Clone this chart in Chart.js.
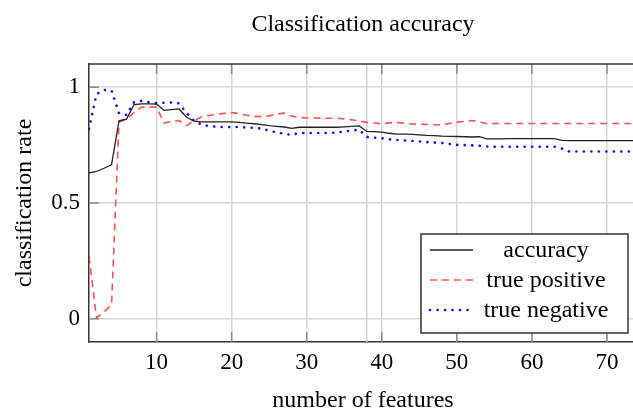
<!DOCTYPE html>
<html>
<head>
<meta charset="utf-8">
<script src="https://cdn.jsdelivr.net/npm/chart.js@4"></script>
<style>
  html, body { margin: 0; padding: 0; background: #fff; overflow: hidden; }
  #wrap { width: 633px; height: 408px; overflow: hidden; }
</style>
</head>
<body>
<div id="wrap"><canvas id="myChart" width="637" height="420"></canvas></div>
<script>
const features = [1, 2, 3, 4, 5, 6, 7, 8, 9, 10, 11, 12, 13, 14, 15, 16, 17, 18, 19, 20,
  21, 22, 23, 24, 25, 26, 27, 28, 29, 30, 31, 32, 33, 34, 35, 36, 37, 38, 39, 40,
  41, 42, 43, 44, 45, 46, 47, 48, 49, 50, 51, 52, 53, 54, 55, 56, 57, 58, 59, 60,
  61, 62, 63, 64, 65, 66, 67, 68, 69, 70, 71, 72, 73, 74]

const accuracy = [0.630, 0.636, 0.650, 0.665, 0.855, 0.862, 0.925, 0.928, 0.928, 0.927,
  0.900, 0.903, 0.906, 0.870, 0.853, 0.850, 0.850, 0.850, 0.850, 0.850,
  0.848, 0.845, 0.842, 0.838, 0.834, 0.831, 0.828, 0.822, 0.827, 0.827,
  0.827, 0.827, 0.827, 0.827, 0.829, 0.831, 0.833, 0.809, 0.808, 0.806,
  0.801, 0.797, 0.797, 0.796, 0.794, 0.792, 0.791, 0.789, 0.788, 0.787,
  0.786, 0.785, 0.786, 0.777, 0.777, 0.777, 0.778, 0.778, 0.778, 0.778,
  0.778, 0.778, 0.778, 0.770, 0.769, 0.769, 0.769, 0.769, 0.769, 0.769,
  0.769, 0.769, 0.769, 0.769]

const truePositive = [0.270, 0.005, 0.030, 0.060, 0.850, 0.862, 0.890, 0.914, 0.914, 0.914,
  0.845, 0.852, 0.856, 0.834, 0.856, 0.872, 0.878, 0.883, 0.887, 0.890,
  0.886, 0.879, 0.874, 0.873, 0.876, 0.884, 0.888, 0.875, 0.869, 0.867,
  0.867, 0.866, 0.866, 0.866, 0.863, 0.859, 0.854, 0.848, 0.845, 0.842,
  0.846, 0.848, 0.844, 0.841, 0.840, 0.839, 0.838, 0.837, 0.843, 0.849,
  0.852, 0.856, 0.851, 0.842, 0.843, 0.843, 0.843, 0.843, 0.843, 0.843,
  0.843, 0.843, 0.843, 0.843, 0.843, 0.843, 0.843, 0.843, 0.843, 0.843,
  0.843, 0.843, 0.843, 0.843]

const trueNegative = [0.820, 0.970, 0.988, 0.985, 0.888, 0.880, 0.935, 0.941, 0.935, 0.931,
  0.933, 0.934, 0.930, 0.888, 0.855, 0.838, 0.832, 0.829, 0.828, 0.828,
  0.828, 0.826, 0.824, 0.821, 0.812, 0.805, 0.798, 0.794, 0.802, 0.802,
  0.802, 0.802, 0.802, 0.804, 0.809, 0.813, 0.816, 0.785, 0.782, 0.780,
  0.775, 0.772, 0.770, 0.768, 0.766, 0.763, 0.761, 0.759, 0.755, 0.751,
  0.750, 0.749, 0.747, 0.744, 0.743, 0.743, 0.743, 0.743, 0.743, 0.743,
  0.743, 0.743, 0.743, 0.735, 0.722, 0.722, 0.722, 0.722, 0.722, 0.722,
  0.722, 0.722, 0.722, 0.722]

const xTicks = [10, 20, 30, 40, 50, 60, 70]
const yTicks = [0, 0.5, 1]
const markerFeature = 38
const seriesNames = ['accuracy', 'true positive', 'true negative']

const serif = "'Liberation Serif', 'DejaVu Serif', serif"
Chart.defaults.font.family = serif
Chart.defaults.color = '#000'

const toPoints = ys => features.map((x, i) => ({ x: x, y: ys[i] }))

// pgfplots-like frame, inner tick marks, marker line and legend box
const framePlugin = {
  id: 'frame',
  beforeDatasetsDraw(chart) {
    const { ctx, chartArea: a, scales } = chart
    ctx.save()
    // extra vertical line at the chosen number of features
    const mx = scales.x.getPixelForValue(markerFeature)
    ctx.strokeStyle = '#d2d2d2'
    ctx.lineWidth = 1.5
    ctx.beginPath()
    ctx.moveTo(mx, a.top)
    ctx.lineTo(mx, a.bottom)
    ctx.stroke()
    // inner tick marks
    ctx.strokeStyle = '#8a8a8a'
    ctx.lineWidth = 1.5
    ctx.beginPath()
    xTicks.forEach(v => {
      const px = scales.x.getPixelForValue(v)
      ctx.moveTo(px, a.bottom); ctx.lineTo(px, a.bottom - 10)
      ctx.moveTo(px, a.top); ctx.lineTo(px, a.top + 10)
    })
    yTicks.forEach(v => {
      const py = scales.y.getPixelForValue(v)
      ctx.moveTo(a.left, py); ctx.lineTo(a.left + 10, py)
    })
    ctx.stroke()
    ctx.restore()
  },
  afterDatasetsDraw(chart) {
    const { ctx, chartArea: a } = chart
    ctx.save()
    ctx.strokeStyle = '#333'
    ctx.lineWidth = 1.5
    ctx.beginPath()
    ctx.moveTo(a.left, a.top)
    ctx.lineTo(a.right, a.top)
    ctx.stroke()
    ctx.restore()
  },
  afterDraw(chart) {
    const { ctx, chartArea: a } = chart
    const w = 207, h = 99
    const left = a.right - 9 - w, top = a.bottom - 9 - h
    ctx.save()
    ctx.fillStyle = '#fff'
    ctx.fillRect(left, top, w, h)
    ctx.strokeStyle = '#333'
    ctx.lineWidth = 1.5
    ctx.strokeRect(left, top, w, h)
    ctx.font = '24px ' + serif
    ctx.textAlign = 'center'
    ctx.textBaseline = 'middle'
    chart.data.datasets.forEach((ds, i) => {
      const y = top + 16 + i * 30
      ctx.save()
      ctx.strokeStyle = ds.borderColor
      ctx.lineWidth = ds.borderWidth
      ctx.lineCap = ds.borderCapStyle || 'butt'
      ctx.setLineDash(ds.borderDash || [])
      ctx.beginPath()
      ctx.moveTo(left + 9, y)
      ctx.lineTo(left + 52, y)
      ctx.stroke()
      ctx.restore()
      ctx.fillStyle = '#000'
      ctx.fillText(ds.label, left + 125, y + 1)
    })
    ctx.restore()
  }
}

const ctx = document.getElementById('myChart')
const config = {
  type: 'line',
  data: {
    datasets: [
      {
        label: seriesNames[0],
        data: toPoints(accuracy),
        borderColor: '#222',
        borderWidth: 1.3,
        pointRadius: 0
      },
      {
        label: seriesNames[1],
        data: toPoints(truePositive),
        borderColor: 'rgba(255, 50, 50, 0.85)',
        borderWidth: 1.6,
        borderDash: [7, 5],
        pointRadius: 0
      },
      {
        label: seriesNames[2],
        data: toPoints(trueNegative),
        borderColor: '#1010ff',
        borderWidth: 2.6,
        borderDash: [0.1, 7.4],
        borderCapStyle: 'round',
        pointRadius: 0
      }
    ]
  },
  options: {
    responsive: false,
    animation: false,
    devicePixelRatio: 1,
    layout: { padding: { top: 64, right: 0, left: 0, bottom: 0 } },
    plugins: {
      legend: { display: false },
      tooltip: { enabled: false },
      title: { display: false }
    },
    scales: {
      x: {
        type: 'linear',
        min: 1,
        max: 74,
        afterBuildTicks: s => { s.ticks = xTicks.map(v => ({ value: v })) },
        afterFit: s => { s.height = 78 },
        grid: { color: '#d6d6d6', lineWidth: 1.5, drawTicks: false },
        border: { display: true, color: '#333', width: 1.5 },
        ticks: { font: { size: 23 }, padding: 7, maxRotation: 0 },
        title: {
          display: true,
          text: 'number of features',
          font: { size: 24 },
          padding: { top: 0, bottom: 5 }
        }
      },
      y: {
        min: -0.1,
        max: 1.1,
        afterBuildTicks: s => { s.ticks = yTicks.map(v => ({ value: v })) },
        afterFit: s => { s.width = 89 },
        grid: { color: '#d6d6d6', lineWidth: 1.5, drawTicks: false },
        border: { display: true, color: '#333', width: 1.5 },
        ticks: { font: { size: 23 }, padding: 9, callback: v => String(v) },
        title: {
          display: true,
          text: 'classification rate',
          font: { size: 24 },
          padding: { top: 10, bottom: 0 }
        }
      }
    }
  },
  plugins: [framePlugin, {
    id: 'chartTitle',
    afterDraw(chart) {
      const { ctx, chartArea: a } = chart
      ctx.save()
      ctx.font = '24px ' + serif
      ctx.fillStyle = '#000'
      ctx.textAlign = 'center'
      ctx.textBaseline = 'middle'
      ctx.fillText('Classification accuracy', (a.left + a.right) / 2, 25)
      ctx.restore()
    }
  }]
}

new Chart(ctx, config)
</script>
</body>
</html>
